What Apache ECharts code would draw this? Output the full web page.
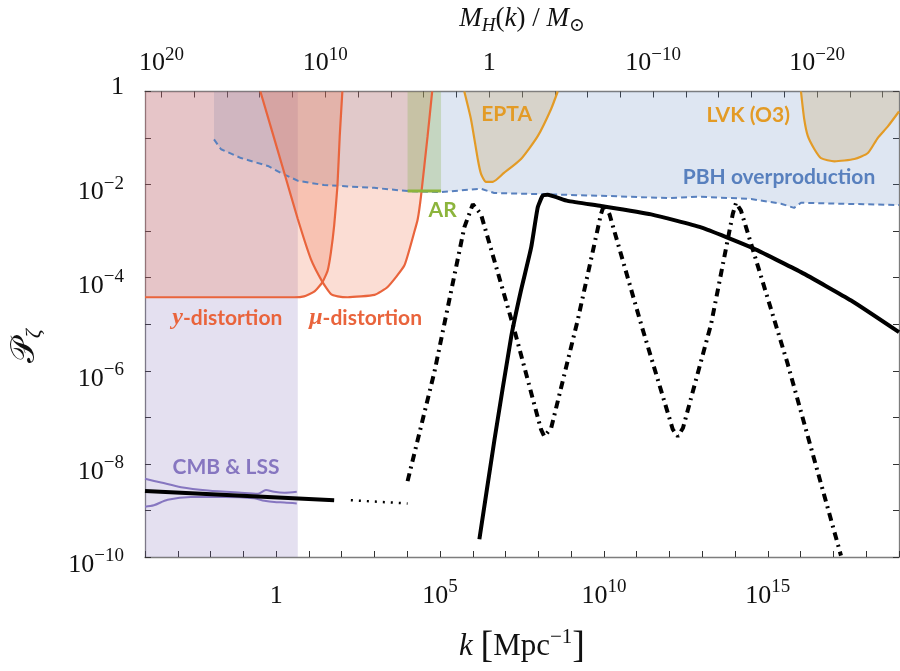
<!DOCTYPE html>
<html>
<head>
<meta charset="utf-8">
<script src="https://cdn.jsdelivr.net/npm/echarts@6/dist/echarts.min.js"></script>
<style>
  html, body { margin: 0; padding: 0; background: #fff; }
  #chart { width: 900px; height: 671px; }
</style>
</head>
<body>
<div id="chart"></div>
<script>
// every value below is a log10: k in Mpc^-1, P_zeta, M_H in solar masses

// axis ticks / labels
const kTicks = [-4, -3, -2, -1, 0, 1, 2, 3, 4, 5, 6, 7, 8, 9, 10, 11, 12, 13, 14, 15, 16, 17, 18, 19];
const kLabels = [0, 5, 10, 15];
const mTicks = [20, 18, 16, 14, 12, 10, 8, 6, 4, 2, 0, -2, -4, -6, -8, -10, -12, -14, -16, -18, -20, -22, -24];
const mLabels = [20, 10, 0, -10, -20];
const pTicks = [0, -1, -2, -3, -4, -5, -6, -7, -8, -9, -10];
const pLabels = [0, -2, -4, -6, -8, -10];

// CMB & LSS band (full height) and its two bounds
const cmbRegionK = [-4, 0.66];
const cmbRegionP = [-10, -10];
const cmbUpperK = [-4, -3.51, -2.90, -2.08, -1.07, -0.55, -0.31, -0.06, 0.25, 0.63];
const cmbUpperP = [-8.32, -8.40, -8.50, -8.57, -8.62, -8.64, -8.56, -8.60, -8.62, -8.60];
const cmbLowerK = [-4, -3.73, -3.31, -2.60, -1.58, -0.67, -0.36, -0.06, 0.25, 0.63];
const cmbLowerP = [-8.92, -8.89, -8.77, -8.71, -8.71, -8.74, -8.79, -8.82, -8.83, -8.85];

// spectral distortions
const yDistK = [-4, 0.55, 0.85, 1.16, 1.41, 1.57, 1.67, 1.77, 1.87, 1.94, 2.02];
const yDistP = [-4.42, -4.42, -4.40, -4.30, -4.10, -3.85, -3.46, -2.88, -2.03, -0.96, 0];
const muDistK = [-0.48, 0.25, 0.66, 1.06, 1.42, 1.67, 1.88, 2.18, 3.0, 3.40, 3.91, 4.21, 4.32, 4.42, 4.62, 4.76];
const muDistP = [0, -1.75, -2.74, -3.60, -4.10, -4.35, -4.40, -4.42, -4.37, -4.20, -3.74, -3.03, -2.74, -2.24, -0.96, 0];

// PBH overproduction bound
const pbhK = [-1.895, -1.68, -1.07, -0.25, 0.15, 0.67, 1.46, 2.99, 4.02, 5.03, 6.25, 6.65, 7.78, 9.91, 11.95, 12.96, 14.49, 15.40, 15.80, 16.01, 19.0];
const pbhP = [-1.03, -1.24, -1.43, -1.60, -1.75, -1.92, -2.01, -2.07, -2.14, -2.16, -2.09, -2.18, -2.20, -2.24, -2.29, -2.26, -2.31, -2.41, -2.50, -2.39, -2.44];

// acoustic reheating
const arK = [4.01, 5.03];
const arP = [-2.14, -2.14];

// PTA and LVK
const eptaK = [5.74, 5.945, 6.15, 6.25, 6.40, 6.61, 6.95, 7.47, 7.98, 8.385, 8.59];
const eptaP = [0, -0.60, -1.45, -1.77, -1.94, -1.94, -1.75, -1.45, -0.96, -0.38, 0];
const lvkK = [16.01, 16.11, 16.22, 16.42, 16.62, 17.03, 17.64, 18.05, 18.35, 18.66, 19.0];
const lvkP = [0, -0.60, -0.96, -1.24, -1.43, -1.50, -1.45, -1.32, -1.00, -0.75, -0.43];

// black curves
const cmbAmpK = [-4, 1.77];
const cmbAmpP = [-8.58, -8.78];
const extrapK = [2.28, 4.01];
const extrapP = [-8.78, -8.85];
const peakK = [6.20, 6.66, 7.17, 7.47, 7.78, 7.98, 8.13, 8.28, 8.89, 9.91, 11.44, 12.96, 14.49, 16.01, 17.54, 19.0];
const peakP = [-9.62, -7.48, -5.27, -4.27, -3.35, -2.49, -2.24, -2.22, -2.35, -2.46, -2.64, -2.92, -3.35, -3.88, -4.49, -5.17];
const oscK = [4.01, 4.83, 5.74, 6.0, 6.25, 7.27, 8.08, 8.18, 8.39, 9.20, 9.91, 10.01, 10.17, 11.13, 12.10, 12.25, 12.41, 13.27, 13.93, 14.03, 14.18, 15.60, 17.23];
const oscP = [-8.37, -6.02, -2.92, -2.42, -2.64, -5.13, -7.26, -7.41, -7.23, -4.91, -2.63, -2.42, -2.64, -4.99, -7.26, -7.41, -7.23, -4.99, -2.63, -2.39, -2.56, -5.84, -9.97];

// region names
const regionNames = ['EPTA', 'LVK (O3)', 'PBH overproduction', 'AR', 'y-distortion', 'μ-distortion', 'CMB & LSS'];
const regionNameK = [7.03, 14.40, 15.34, 5.08, -1.49, 2.73, -1.53];
const regionNameP = [-0.49, -0.50, -1.85, -2.56, -4.87, -4.87, -8.08];

const SERIF = '"Liberation Serif", "DejaVu Serif", serif';
const SANS = 'Lato, "Open Sans", sans-serif';
const RED = '#e9643c';
const GOLD = '#e39b26';
const BLUE = '#5880be';
const GREEN = '#8cb43c';
const PURPLE = '#8676c0';
const regionColors = [GOLD, GOLD, BLUE, GREEN, RED, RED, PURPLE];

const zip = (a, b) => a.map((v, i) => [v, b[i]]);

function powLabel(v) {
  if (v === 0) return '{one|1}';
  const e = v < 0 ? '\u2212' + (-v) : String(v);
  return '{b|10}{s|' + e + '}';
}

const tickRich = {
  b: { fontFamily: SERIF, fontSize: 26, lineHeight: 36, color: '#111' },
  s: { fontFamily: SERIF, fontSize: 19, lineHeight: 20, verticalAlign: 'top', color: '#111' },
  one: { fontFamily: SERIF, fontSize: 26, lineHeight: 36, color: '#111' }
};
const leftRich = Object.assign({}, tickRich, {
  one: { fontFamily: SERIF, fontSize: 26, lineHeight: 36, color: '#111', padding: [0, 0, 24, 0] }
});

const frameLine = { show: true, onZero: false, lineStyle: { color: '#7d7d7d', width: 1.3 } };
const tickStyle = { color: '#333', width: 1 };

function fill(ks, ps, color, smooth) {
  return {
    type: 'line', data: zip(ks, ps), symbol: 'none', silent: true,
    lineStyle: { width: 0, opacity: 0 },
    areaStyle: { origin: 'end', color: color, opacity: 1 },
    smooth: smooth || 0
  };
}

function curve(ks, ps, color, width, type, smooth) {
  return {
    type: 'line', data: zip(ks, ps), symbol: 'none', silent: true,
    lineStyle: { color: color, width: width, type: type || 'solid', cap: 'butt' },
    smooth: smooth || 0
  };
}

const chart = echarts.init(document.getElementById('chart'));

const labelData = regionNames.map((n, i) => {
  let text = '{n|' + n + '}';
  if (n === 'y-distortion') text = '{it|y}{n|-distortion}';
  else if (n === 'μ-distortion') text = '{it|μ}{n|-distortion}';
  const c = regionColors[i];
  return {
    value: [regionNameK[i], regionNameP[i]],
    label: {
      formatter: text, color: c, textBorderWidth: 0, textBorderColor: 'transparent',
      rich: {
        it: { fontFamily: SERIF, fontStyle: 'italic', fontWeight: 'bold', fontSize: 24, color: c, textBorderWidth: 0 },
        n: { fontFamily: SANS, fontWeight: 'bold', fontSize: 21, color: c, textBorderWidth: 0 }
      }
    }
  };
});

chart.setOption({
  animation: false,
  backgroundColor: '#fff',
  grid: { left: 144, right: 1, top: 90, bottom: 113 },
  xAxis: [
    {
      type: 'value', position: 'bottom', min: -4, max: 19,
      axisLine: frameLine,
      axisTick: { show: true, inside: true, length: 6, customValues: kTicks, lineStyle: tickStyle },
      axisLabel: { customValues: kLabels, formatter: powLabel, margin: 21, rich: tickRich },
      splitLine: { show: false },
      name: '{k|k }{br|[}{t|Mpc}{sup|\u22121}{br|]}',
      nameLocation: 'middle', nameGap: 70,
      nameTextStyle: {
        rich: {
          k: { fontFamily: SERIF, fontStyle: 'italic', fontSize: 31, lineHeight: 40, color: '#111' },
          t: { fontFamily: SERIF, fontSize: 31, lineHeight: 40, color: '#111' },
          br: { fontFamily: SERIF, fontSize: 38, lineHeight: 40, color: '#111' },
          sup: { fontFamily: SERIF, fontSize: 21, lineHeight: 22, verticalAlign: 'top', color: '#111' }
        }
      }
    },
    {
      type: 'value', position: 'top', min: -25, max: 21, inverse: true,
      axisLine: frameLine,
      axisTick: { show: true, inside: true, length: 6, customValues: mTicks, lineStyle: tickStyle },
      axisLabel: { customValues: mLabels, formatter: powLabel, margin: 10, rich: tickRich },
      splitLine: { show: false },
      name: '{m|M}{sub|H}{t|(}{m|k}{t|) / }{m|M}{sun|\u2299}',
      nameLocation: 'middle', nameGap: 56,
      nameTextStyle: {
        rich: {
          m: { fontFamily: SERIF, fontStyle: 'italic', fontSize: 27, lineHeight: 34, color: '#111' },
          t: { fontFamily: SERIF, fontSize: 27, lineHeight: 34, color: '#111' },
          sub: { fontFamily: SERIF, fontStyle: 'italic', fontSize: 19, lineHeight: 22, verticalAlign: 'bottom', color: '#111' },
          sun: { fontFamily: SERIF, fontSize: 19, lineHeight: 22, verticalAlign: 'bottom', color: '#111' }
        }
      }
    }
  ],
  yAxis: [
    {
      type: 'value', position: 'left', min: -10, max: 0,
      axisLine: frameLine,
      axisTick: { show: true, inside: true, length: 6, customValues: pTicks, lineStyle: tickStyle },
      axisLabel: { customValues: pLabels, formatter: powLabel, margin: 21, padding: [16, 0, 0, 0], rich: leftRich },
      splitLine: { show: false },
      name: '{p|\uD835\uDCAB}{sub|\u03B6}',
      nameLocation: 'middle', nameGap: 100, nameRotate: 90,
      nameTextStyle: {
        padding: [0, 44, 0, 0],
        rich: {
          p: { fontFamily: '"DejaVu Serif", "Liberation Serif", serif', fontSize: 34, lineHeight: 40, color: '#111' },
          sub: { fontFamily: SERIF, fontStyle: 'italic', fontSize: 22, lineHeight: 24, verticalAlign: 'bottom', color: '#111' }
        }
      }
    },
    {
      type: 'value', position: 'right', min: -10, max: 0,
      axisLine: frameLine,
      axisTick: { show: true, inside: true, length: 6, customValues: pTicks, lineStyle: tickStyle },
      axisLabel: { show: false },
      splitLine: { show: false }
    }
  ],
  series: [
    // shaded regions
    fill(cmbRegionK, cmbRegionP, 'rgba(120,100,180,0.2)', 0),
    fill(pbhK, pbhP, 'rgba(90,130,190,0.2)', 0),
    fill(yDistK, yDistP, 'rgba(235,100,60,0.22)', 0.15),
    fill(muDistK, muDistP, 'rgba(235,100,60,0.22)', 0.15),
    fill(arK, arP, 'rgba(140,180,80,0.3)', 0),
    fill(eptaK, eptaP, 'rgba(200,170,110,0.3)', 0.2),
    fill(lvkK, lvkP, 'rgba(200,170,110,0.3)', 0.2),
    // boundaries
    curve(cmbUpperK, cmbUpperP, PURPLE, 2, 'solid', 0.3),
    curve(cmbLowerK, cmbLowerP, PURPLE, 2, 'solid', 0.3),
    curve(pbhK, pbhP, BLUE, 2, [6, 4], 0),
    curve(yDistK, yDistP, RED, 2.2, 'solid', 0.15),
    curve(muDistK, muDistP, RED, 2.2, 'solid', 0.15),
    curve(arK, arP, GREEN, 3, 'solid', 0),
    curve(eptaK, eptaP, GOLD, 2.2, 'solid', 0.2),
    curve(lvkK, lvkP, GOLD, 2.2, 'solid', 0.2),
    // power spectra
    curve(cmbAmpK, cmbAmpP, '#000', 4, 'solid', 0),
    curve(extrapK, extrapP, '#000', 2.5, [2, 6], 0),
    curve(oscK, oscP, '#000', 4, [8, 5, 2, 5], 0),
    curve(peakK, peakP, '#000', 4, 'solid', 0.15),
    {
      type: 'scatter', data: labelData, symbolSize: 0, silent: true, z: 10,
      itemStyle: { opacity: 1 },
      label: { show: true, position: 'inside', fontFamily: SANS, fontWeight: 'bold', fontSize: 21, textBorderWidth: 0 }
    }
  ]
});
</script>
</body>
</html>
